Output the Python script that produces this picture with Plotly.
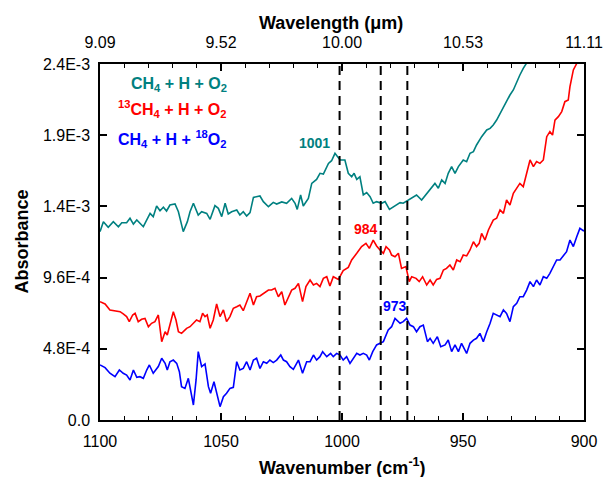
import plotly.graph_objects as go

# ---------------- data (absorbance in units of 1e-4) ----------------
ABS_UNIT = 1e-4

teal_wn = [1100.0, 1098.6, 1096.6, 1094.5, 1092.4, 1091.0, 1089.0, 1087.6, 1086.2, 1084.8,
           1082.1, 1079.3, 1078.0, 1076.6, 1075.2, 1073.8, 1072.5, 1071.1, 1069.0, 1067.6,
           1065.6, 1063.9, 1062.8, 1061.4, 1059.4, 1058.0, 1055.9, 1054.5, 1052.5, 1051.1,
           1049.7, 1048.3, 1047.0, 1045.6, 1043.5, 1042.2, 1040.8, 1039.4, 1038.0, 1036.6,
           1033.9, 1032.5, 1030.4, 1028.4, 1027.0, 1024.9, 1022.9, 1020.8, 1019.4, 1018.5,
           1017.1, 1016.0, 1013.9, 1012.5, 1010.5, 1009.1, 1007.7, 1005.6, 1004.3,
           1002.9, 1000.8, 998.8, 997.4, 996.0, 995.0, 993.9, 992.6, 991.2, 989.8,
           988.4, 987.1, 985.7, 983.6, 982.2, 980.4, 978.8, 977.4, 976.0, 974.7,
           972.6, 970.5, 969.2, 967.1, 965.0, 963.6, 961.6, 960.2, 958.8, 957.4,
           956.1, 954.7, 953.3, 951.9, 949.9, 948.5, 947.1, 945.7, 944.4, 942.3,
           940.2, 938.8, 937.5, 936.1, 934.7, 933.3, 932.0, 930.6, 929.2, 927.8,
           926.5, 925.1, 923.7, 922.0]
teal_abs = [12.70, 13.37, 12.99, 13.37, 13.03, 13.30, 13.30, 13.60, 13.21, 13.48,
            13.03, 13.93, 13.71, 14.43, 14.11, 14.34, 14.09, 14.49, 14.56, 14.04,
            12.70, 13.37, 14.04, 14.61, 13.82, 14.04, 13.93, 13.53, 14.45, 14.27,
            13.71, 14.61, 13.89, 14.04, 14.16, 13.82, 14.04, 13.75, 13.98, 15.01,
            15.10, 14.72, 14.38, 14.67, 14.56, 14.70, 14.61, 14.94, 14.61, 14.20,
            15.17, 14.43, 14.94, 15.95, 16.22, 16.63, 16.58, 17.30, 17.48,
            17.98, 17.53, 17.53, 16.63, 16.40, 16.63, 16.22, 16.40, 15.17, 15.33,
            15.06, 14.61, 14.72, 14.61, 14.72, 14.20, 14.38, 14.49, 14.65, 14.61,
            14.83, 15.06, 15.17, 14.83, 15.28, 15.51, 15.95, 15.62, 16.18, 15.95,
            16.63, 17.08, 16.63, 17.08, 17.53, 17.42, 17.98, 18.09, 18.54, 19.10,
            19.55, 19.66, 19.89, 20.22, 20.67, 21.12, 21.57, 21.91, 22.25, 22.81,
            23.26, 23.71, 24.04, 24.50]

red_wn = [1100.0, 1097.9, 1095.9, 1093.8, 1091.7, 1090.4, 1089.0, 1087.9, 1086.5, 1085.5,
          1084.2, 1082.8, 1081.4, 1080.0, 1078.7, 1077.3, 1075.9, 1074.5, 1073.1, 1072.2,
          1071.1, 1069.7, 1068.6, 1067.6, 1066.3, 1064.2, 1062.8, 1061.4, 1060.1, 1058.7,
          1057.6, 1056.6, 1055.7, 1054.5, 1053.2, 1051.8, 1050.4, 1049.0, 1047.7, 1046.3,
          1044.9, 1043.5, 1042.2, 1040.8, 1039.4, 1038.0, 1036.6, 1035.3, 1033.9, 1032.5,
          1030.4, 1029.1, 1027.7, 1026.3, 1024.9, 1023.6, 1022.2, 1020.8, 1019.4, 1018.0,
          1016.3, 1014.9, 1013.2, 1011.8, 1010.5, 1009.1, 1007.7, 1006.3, 1005.0,
          1003.6, 1001.5, 999.5, 997.4, 996.0, 993.9, 991.9, 990.1, 988.7, 987.1,
          985.7, 984.3, 982.9, 981.8, 980.4, 979.5, 978.1, 976.7, 975.4, 973.6,
          972.2, 971.2, 969.4, 968.1, 966.7, 965.0, 963.6, 962.3, 960.9, 959.5,
          958.1, 956.8, 955.4, 954.0, 952.6, 951.2, 949.9, 948.5, 947.1, 945.7,
          944.4, 943.3, 942.3, 940.9, 939.5, 937.5, 936.1, 934.7, 933.3, 932.0,
          930.6, 929.2, 927.8, 926.5, 925.1, 923.7, 922.3, 920.9, 919.6, 918.2,
          916.8, 915.4, 914.1, 913.0, 912.0, 910.6, 909.2, 907.9, 906.5, 905.8,
          904.4, 903.0, 902.0]
red_abs = [7.98, 7.82, 7.42, 7.37, 7.30, 7.15, 6.97, 6.63, 7.08, 7.19,
           6.63, 6.79, 6.85, 6.29, 6.52, 6.63, 7.08, 5.28, 5.95, 5.73,
           6.40, 7.30, 6.74, 5.95, 5.84, 6.18, 6.29, 6.56, 6.74, 6.63,
           7.19, 6.97, 7.08, 6.18, 6.74, 7.82, 6.97, 7.42, 6.63, 6.97,
           7.53, 7.64, 7.75, 7.37, 7.91, 8.54, 7.75, 8.31, 8.36, 8.54,
           8.76, 8.76, 8.88, 8.31, 8.65, 7.75, 8.31, 8.76, 8.88, 9.21,
           7.98, 8.99, 9.44, 9.10, 9.21, 8.99, 9.55, 9.66, 9.03,
           9.66, 9.48, 10.07, 10.29, 10.79, 11.24, 11.69, 11.91, 11.57, 12.13,
           11.73, 11.46, 11.24, 11.69, 11.46, 11.12, 11.01, 11.24, 10.22, 10.34,
           9.33, 9.66, 9.55, 9.33, 9.66, 9.10, 9.44, 9.10, 9.48, 9.55,
           10.11, 10.22, 10.45, 10.11, 10.79, 10.67, 11.12, 11.06, 11.46, 12.02,
           11.69, 11.91, 12.58, 12.13, 12.81, 13.48, 13.60, 14.16, 13.93, 14.83,
           14.49, 15.28, 15.62, 15.95, 15.73, 16.63, 17.53, 17.08, 17.42, 17.30,
           17.53, 19.10, 19.44, 19.21, 20.22, 20.45, 20.79, 21.46, 21.57, 22.47,
           23.60, 24.04, 24.50]

blue_wn = [1100.0, 1097.9, 1095.9, 1093.8, 1092.0, 1090.4, 1089.0, 1087.6, 1086.2, 1084.8,
           1083.5, 1082.1, 1080.7, 1079.6, 1078.0, 1076.9, 1075.9, 1074.5, 1073.1, 1072.2,
           1071.1, 1069.7, 1068.3, 1067.2, 1066.3, 1064.9, 1063.5, 1061.4, 1060.3, 1059.4,
           1058.0, 1056.6, 1055.2, 1054.3, 1052.9, 1050.4, 1049.0, 1047.7, 1046.3, 1044.9,
           1043.5, 1042.2, 1040.8, 1039.4, 1038.0, 1036.6, 1035.3, 1033.9, 1032.5, 1031.1,
           1029.8, 1028.4, 1027.0, 1025.3, 1024.2, 1022.9, 1021.5, 1020.1, 1018.0, 1016.3,
           1014.6, 1013.2, 1011.8, 1010.5, 1009.1, 1008.0, 1006.3, 1004.7,
           1003.6, 1002.2, 1000.8, 999.5, 998.1, 996.7, 995.3, 993.9, 992.6, 991.2,
           989.8, 988.7, 987.3, 985.7, 984.3, 982.9, 980.9, 979.5, 978.1, 976.0,
           974.7, 973.3, 971.9, 970.5, 969.2, 967.8, 966.4, 964.7, 963.6, 962.3,
           960.6, 959.2, 957.4, 956.1, 954.7, 953.3, 951.9, 950.6, 948.5, 947.1,
           945.7, 944.4, 943.0, 941.6, 940.2, 938.8, 937.5, 936.1, 934.7, 933.3,
           932.0, 930.6, 929.2, 927.8, 926.5, 925.1, 923.7, 922.3, 920.9, 919.6,
           918.2, 916.8, 915.4, 914.1, 912.7, 911.3, 909.9, 908.5, 907.2, 905.8,
           904.4, 903.0, 901.7, 900.3, 900.0]
blue_abs = [3.71, 3.53, 3.15, 2.92, 3.37, 3.15, 3.03, 2.70, 3.37, 2.88,
            2.92, 2.81, 3.37, 3.71, 3.15, 3.37, 3.60, 4.16, 3.82, 3.37,
            3.93, 4.04, 3.82, 3.26, 2.25, 2.13, 2.81, 1.01, 2.70, 4.61,
            3.60, 3.78, 2.25, 1.80, 2.58, 0.90, 1.57, 1.80, 2.13, 2.20,
            3.93, 3.37, 3.48, 3.93, 3.37, 4.04, 4.16, 3.48, 3.93, 3.82,
            4.04, 3.87, 4.04, 4.38, 4.04, 3.93, 3.60, 3.42, 4.04, 3.15,
            3.93, 3.93, 4.38, 4.04, 4.27, 4.61, 4.27, 4.49,
            4.27, 4.49, 4.38, 4.04, 4.27, 3.82, 4.16, 4.49, 4.38, 4.49,
            4.38, 4.04, 4.61, 5.06, 5.17, 5.28, 6.07, 6.29, 6.85, 6.52,
            6.63, 6.85, 6.40, 6.29, 5.95, 6.29, 6.40, 5.28, 5.51, 5.17,
            5.62, 4.94, 5.06, 5.39, 4.61, 5.06, 4.61, 5.17, 4.49, 5.17,
            5.39, 5.51, 5.84, 5.28, 5.95, 6.52, 7.19, 7.08, 6.97, 7.42,
            7.19, 6.63, 7.64, 7.87, 8.31, 8.31, 8.76, 9.33, 8.99, 9.44,
            9.10, 9.66, 9.55, 9.89, 10.34, 10.79, 10.79, 11.12, 11.35, 12.13,
            11.69, 12.36, 12.92, 12.76, 12.81]

assert len(teal_wn) == len(teal_abs)
assert len(red_wn) == len(red_abs)
assert len(blue_wn) == len(blue_abs)

x_ticks = [1100, 1050, 1000, 950, 900]
x_tick_labels = ["1100", "1050", "1000", "950", "900"]
top_tick_labels = ["%.2f" % (1e4 / v) for v in x_ticks]   # wavelength in micrometres
y_ticks = [0.0, 4.8e-4, 9.6e-4, 1.44e-3, 1.92e-3, 2.4e-3]
y_tick_labels = ["0.0", "4.8E-4", "9.6E-4", "1.4E-3", "1.9E-3", "2.4E-3"]

peak_positions = [1001, 984, 973]
peak_labels = ["1001", "984", "973"]

series_names = ["CH<sub>4</sub> + H + O<sub>2</sub>",
                "<sup>13</sup>CH<sub>4</sub> + H + O<sub>2</sub>",
                "CH<sub>4</sub> + H + <sup>18</sup>O<sub>2</sub>"]

TEAL = "#008080"
RED = "#FF0000"
BLUE = "#0000FF"
FONT = "Liberation Sans, Arial, sans-serif"

fig = go.Figure()
for wn, ab, col, name in [(teal_wn, teal_abs, TEAL, series_names[0]),
                          (red_wn, red_abs, RED, series_names[1]),
                          (blue_wn, blue_abs, BLUE, series_names[2])]:
    fig.add_trace(go.Scatter(x=wn, y=[a * ABS_UNIT for a in ab], mode="lines",
                             line=dict(color=col, width=1.6), name=name,
                             showlegend=False, cliponaxis=True))

# invisible trace to activate the top (wavelength) axis
fig.add_trace(go.Scatter(x=[x_ticks[0], x_ticks[-1]], y=[0, 0], xaxis="x2",
                         mode="markers", marker=dict(opacity=0), showlegend=False,
                         hoverinfo="skip"))

axis_common = dict(showgrid=False, zeroline=False, showline=True, linecolor="black",
                   linewidth=1.5, ticks="inside", ticklen=7, tickwidth=1.5,
                   tickcolor="black", automargin=False,
                   tickfont=dict(family=FONT, size=16, color="black"))
minor_x = dict(ticks="inside", ticklen=4, tickwidth=1.2, tickcolor="black",
               tick0=900, dtick=10, showgrid=False)

fig.update_layout(
    template="none",
    width=606, height=477,
    margin=dict(l=100, r=22, t=64, b=57, pad=0, autoexpand=False),
    plot_bgcolor="white", paper_bgcolor="white",
    font=dict(family=FONT, size=16, color="black"),
    showlegend=False,
    xaxis=dict(range=[1100, 900], tickmode="array", tickvals=x_ticks,
               ticktext=x_tick_labels, minor=minor_x, mirror=False,
               ticklabelstandoff=6, **axis_common),
    xaxis2=dict(range=[1100, 900], overlaying="x", side="top", tickmode="array",
                tickvals=x_ticks, ticktext=top_tick_labels, minor=minor_x,
                ticklabelstandoff=8, **axis_common),
    yaxis=dict(range=[0, 2.4e-3], tickmode="array", tickvals=y_ticks,
               ticktext=y_tick_labels, mirror="ticks", ticklabelstandoff=5,
               **axis_common),
)

# dashed markers at the band positions
for p in peak_positions:
    fig.add_shape(type="line", xref="x", yref="paper", x0=p, x1=p, y0=0, y1=1,
                  line=dict(color="black", width=2, dash="9px,6px"))

annotations = []
# series labels (top-left)
for txt, col, yy in zip(series_names, [TEAL, RED, BLUE], [0.943, 0.873, 0.790]):
    annotations.append(dict(text="<b>%s</b>" % txt, xref="paper", yref="paper",
                            x=0.267, y=yy, xanchor="right", yanchor="middle",
                            showarrow=False, font=dict(family=FONT, size=16, color=col)))
# band labels
for lbl, col, (lx, ly) in zip(peak_labels, [TEAL, RED, BLUE],
                              [(1011.2, 18.67e-4), (990.1, 12.88e-4), (978.1, 7.69e-4)]):
    annotations.append(dict(text="<b>%s</b>" % lbl, xref="x", yref="y", x=lx, y=ly,
                            showarrow=False, xanchor="center", yanchor="middle",
                            font=dict(family=FONT, size=14, color=col)))
# axis titles
annotations += [
    dict(text="<b>Wavelength (\u03bcm)</b>", xref="paper", yref="paper", x=0.477, y=1.115,
         xanchor="center", yanchor="middle", showarrow=False,
         font=dict(family=FONT, size=18, color="black")),
    dict(text="<b>Wavenumber (cm<sup>-1</sup>)</b>", xref="paper", yref="paper", x=0.5,
         y=-0.132, xanchor="center", yanchor="middle", showarrow=False,
         font=dict(family=FONT, size=18, color="black")),
    dict(text="<b>Absorbance</b>", xref="paper", yref="paper", x=-0.162, y=0.5,
         xanchor="center", yanchor="middle", textangle=-90, showarrow=False,
         font=dict(family=FONT, size=18, color="black")),
]
fig.update_layout(annotations=annotations)

# remove the browser's default page margin so the 606x477 figure fills the window
fig.write_html("out.html", config={"displayModeBar": False},
               post_script="document.body.style.margin='0';document.body.style.overflow='hidden';")
